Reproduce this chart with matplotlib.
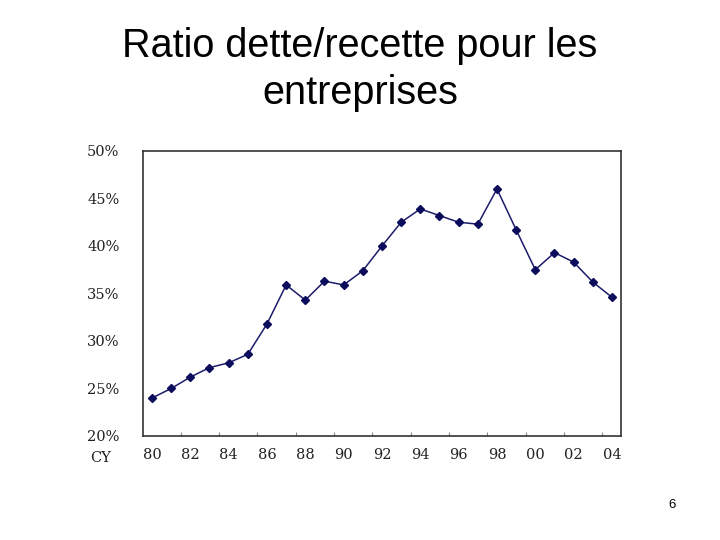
import numpy as np
import matplotlib.pyplot as plt

years = ['80', '81', '82', '83', '84', '85', '86', '87', '88', '89', '90', '91', '92',
         '93', '94', '95', '96', '97', '98', '99', '00', '01', '02', '03', '04']
ratio = [24.0, 25.0, 26.2, 27.2, 27.7, 28.6, 31.8, 35.9, 34.3, 36.3, 35.9, 37.4, 40.0,
         42.5, 43.9, 43.2, 42.5, 42.3, 46.0, 41.7, 37.5, 39.3, 38.3, 36.2, 34.6]
yticks = [20, 25, 30, 35, 40, 45, 50]

fig = plt.figure(figsize=(7.2, 5.4), dpi=100)
fig.text(0.5, 0.871, 'Ratio dette/recette pour les\nentreprises', ha='center', va='center',
         fontsize=28.5, family='Liberation Sans', linespacing=1.3)
fig.text(0.934, 0.065, '6', ha='center', va='center', fontsize=9.5, family='Liberation Sans')

ax = fig.add_axes([0.1986, 0.1926, 0.6639, 0.5278])
x = np.arange(len(years))
ax.plot(x, ratio, color='#1c1c6b', lw=1.1, marker='D', ms=4, mfc='#0c0c5c', mec='#0c0c5c')

lab = dict(family='DejaVu Serif', fontsize=10.5, color='#222222')
ax.set_ylim(20, 50)
ax.set_xlim(-0.47, len(years) - 0.53)
ax.set_yticks(yticks)
ax.set_yticklabels([f'{v}%' for v in yticks], **lab)
ax.tick_params(axis='y', length=0, pad=17)

ax.set_xticks(np.arange(1.5, len(years) - 1, 2))
ax.set_xticklabels([])
ax.tick_params(axis='x', which='major', direction='in', length=3, color='#888888')
ax.set_xticks(x[::2], minor=True)
ax.set_xticklabels(years[::2], minor=True, **lab)
ax.tick_params(axis='x', which='minor', length=0, pad=9)
fig.text(0.140, 0.151, 'CY', ha='center', va='center', **lab)

for s in ax.spines.values():
    s.set_color('#333333')
    s.set_linewidth(1.2)

fig.savefig('out.png', dpi=100)
